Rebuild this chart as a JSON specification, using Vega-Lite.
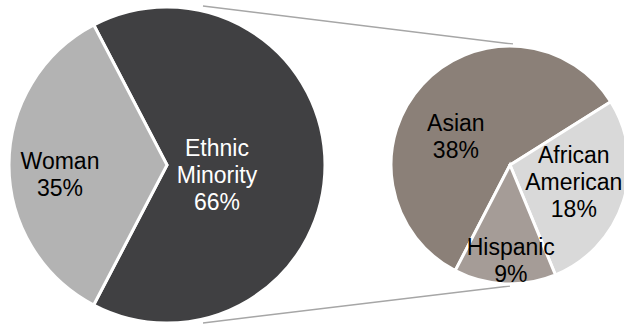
{
  "$schema": "https://vega.github.io/schema/vega-lite/v6.json",
  "width": 624,
  "height": 326,
  "autosize": {"type": "none"},
  "padding": 0,
  "background": "#ffffff",
  "config": {"view": {"stroke": null}},
  "datasets": {
    "main": [
      {"category": "Ethnic Minority", "value": 66, "label": "Ethnic\nMinority\n66%"},
      {"category": "Woman", "value": 35, "label": "Woman\n35%"}
    ],
    "sub": [
      {"category": "Asian", "value": 38, "label": "Asian\n38%"},
      {"category": "African American", "value": 18, "label": "African\nAmerican\n18%"},
      {"category": "Hispanic", "value": 9, "label": "Hispanic\n9%"}
    ]
  },
  "resolve": {"scale": {"theta": "independent"}},
  "layer": [
    {
      "data": {"values": [{}]},
      "mark": {"type": "rule", "color": "#a6a6a6", "strokeWidth": 1.5},
      "encoding": {
        "x": {"datum": 203, "type": "quantitative", "scale": {"domain": [0, 624], "nice": false, "zero": false}, "axis": null},
        "y": {"datum": 6, "type": "quantitative", "scale": {"domain": [0, 326], "nice": false, "zero": false, "reverse": true}, "axis": null},
        "x2": {"datum": 513},
        "y2": {"datum": 44}
      }
    },
    {
      "data": {"values": [{}]},
      "mark": {"type": "rule", "color": "#a6a6a6", "strokeWidth": 1.5},
      "encoding": {
        "x": {"datum": 203, "type": "quantitative", "scale": {"domain": [0, 624], "nice": false, "zero": false}, "axis": null},
        "y": {"datum": 323, "type": "quantitative", "scale": {"domain": [0, 326], "nice": false, "zero": false, "reverse": true}, "axis": null},
        "x2": {"datum": 510},
        "y2": {"datum": 286}
      }
    },
    {
      "data": {"name": "main"},
      "encoding": {
        "x": {"datum": 167, "type": "quantitative", "scale": {"domain": [0, 624], "nice": false, "zero": false}, "axis": null},
        "y": {"datum": 165, "type": "quantitative", "scale": {"domain": [0, 326], "nice": false, "zero": false, "reverse": true}, "axis": null},
        "theta": {"field": "value", "type": "quantitative", "stack": true, "scale": {"range": [-0.4817, 5.8015]}},
        "order": {"field": "value", "type": "quantitative", "sort": "descending"},
        "detail": {"field": "category", "type": "nominal"}
      },
      "layer": [
        {
          "mark": {"type": "arc", "outerRadius": 158, "stroke": "#ffffff", "strokeWidth": 3},
          "encoding": {
            "color": {
              "field": "category", "type": "nominal", "legend": null,
              "scale": {
                "domain": ["Ethnic Minority", "Woman", "Asian", "African American", "Hispanic"],
                "range": ["#404042", "#b3b3b3", "#8b8078", "#d9d9d9", "#a59c97"]
              }
            }
          }
        },
        {
          "mark": {"type": "text", "radius": 107, "dy": -3, "font": "Liberation Sans", "fontSize": 23, "lineHeight": 27, "lineBreak": "\n", "align": "center", "baseline": "middle", "color": "#000000"},
          "encoding": {
            "text": {"condition": {"test": "datum.category === 'Woman'", "field": "label"}, "value": ""}
          }
        },
        {
          "mark": {"type": "text", "radius": 50, "dy": -16.5, "font": "Liberation Sans", "fontSize": 23, "lineHeight": 27, "lineBreak": "\n", "align": "center", "baseline": "middle", "color": "#ffffff"},
          "encoding": {
            "text": {"condition": {"test": "datum.category === 'Ethnic Minority'", "field": "label"}, "value": ""}
          }
        }
      ]
    },
    {
      "data": {"name": "sub"},
      "encoding": {
        "x": {"datum": 510, "type": "quantitative", "scale": {"domain": [0, 624], "nice": false, "zero": false}, "axis": null},
        "y": {"datum": 165, "type": "quantitative", "scale": {"domain": [0, 326], "nice": false, "zero": false, "reverse": true}, "axis": null},
        "theta": {"field": "value", "type": "quantitative", "stack": true, "scale": {"range": [3.6198, 9.903]}},
        "order": {"field": "value", "type": "quantitative", "sort": "descending"},
        "detail": {"field": "category", "type": "nominal"}
      },
      "layer": [
        {
          "mark": {"type": "arc", "outerRadius": 119, "stroke": "#ffffff", "strokeWidth": 3},
          "encoding": {
            "color": {
              "field": "category", "type": "nominal", "legend": null,
              "scale": {
                "domain": ["Ethnic Minority", "Woman", "Asian", "African American", "Hispanic"],
                "range": ["#404042", "#b3b3b3", "#8b8078", "#d9d9d9", "#a59c97"]
              }
            }
          }
        },
        {
          "mark": {"type": "text", "radius": 60, "dx": -10, "dy": -0.5, "font": "Liberation Sans", "fontSize": 23, "lineHeight": 27, "lineBreak": "\n", "align": "center", "baseline": "middle", "color": "#000000"},
          "encoding": {
            "text": {"condition": {"test": "datum.category === 'Asian'", "field": "label"}, "value": ""}
          }
        },
        {
          "mark": {"type": "text", "radius": 67, "dy": -29.5, "font": "Liberation Sans", "fontSize": 23, "lineHeight": 27, "lineBreak": "\n", "align": "center", "baseline": "middle", "color": "#000000"},
          "encoding": {
            "text": {"condition": {"test": "datum.category === 'African American'", "field": "label"}, "value": ""}
          }
        },
        {
          "mark": {"type": "text", "radius": 98, "dx": 5, "dy": -14.5, "font": "Liberation Sans", "fontSize": 23, "lineHeight": 27, "lineBreak": "\n", "align": "center", "baseline": "middle", "color": "#000000"},
          "encoding": {
            "text": {"condition": {"test": "datum.category === 'Hispanic'", "field": "label"}, "value": ""}
          }
        }
      ]
    }
  ]
}
